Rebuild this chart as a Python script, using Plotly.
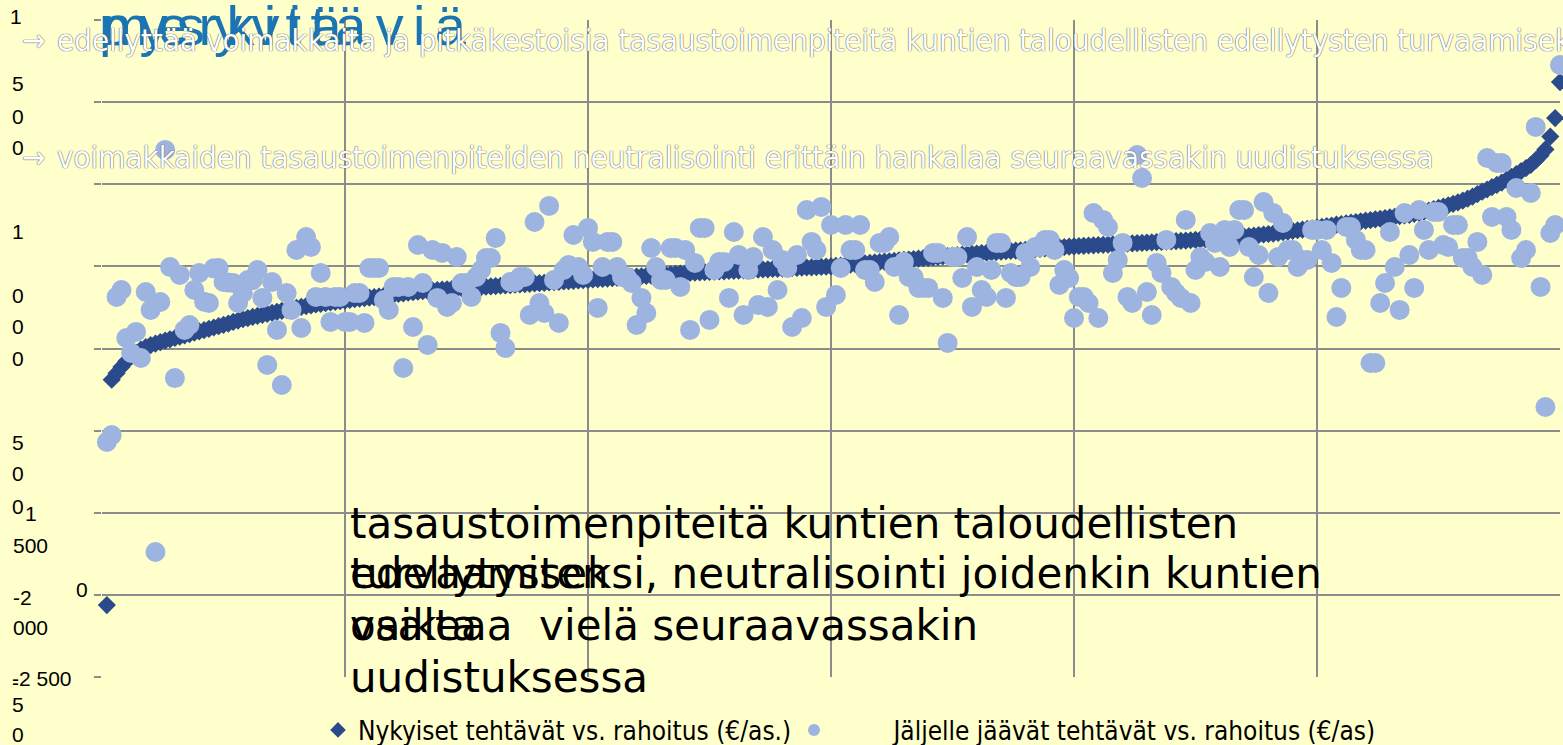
import plotly.graph_objects as go

# Nykyiset tehtävät vs. rahoitus (€/as.) -- sorted, one value per municipality
dark = [
    -2062, -690, -650, -612, -578, -548, -525, -507, -492, -480,
    -470, -461, -452, -444, -436, -428, -420, -412, -404, -396,
    -388, -380, -372, -364, -356, -348, -338, -330, -322, -315,
    -308, -301, -295, -289, -283, -277, -271, -265, -259, -253,
    -247, -242, -237, -232, -228, -224, -220, -216, -212, -208,
    -204, -200, -196, -193, -190, -187, -184, -180, -176, -172,
    -168, -164, -160, -157, -154, -151, -149, -146, -144, -142,
    -140, -138, -136, -134, -132, -130, -128, -126, -124, -122,
    -120, -118, -116, -114, -112, -110, -108, -106, -104, -102,
    -100, -98, -96, -94, -92, -90, -88, -86, -84, -82,
    -80, -78, -76, -74, -72, -70, -68, -66, -64, -62,
    -60, -58, -56, -54, -52, -50, -48, -46, -44, -42,
    -39, -38, -36, -35, -34, -32, -31, -30, -28, -27,
    -26, -24, -23, -22, -20, -19, -18, -16, -15, -14,
    -12, -11, -10, -8, -7, -6, -4, -3, -2, 0,
    3, 5, 8, 10, 13, 16, 18, 21, 24, 26,
    29, 31, 34, 37, 39, 42, 45, 47, 50, 52,
    55, 58, 60, 63, 65, 68, 71, 73, 76, 78,
    81, 83, 85, 87, 89, 92, 94, 96, 98, 100,
    103, 105, 107, 109, 111, 113, 116, 118, 120, 122,
    124, 125, 127, 128, 130, 131, 133, 134, 136, 137,
    139, 140, 142, 143, 145, 146, 148, 149, 151, 152,
    154, 155, 157, 159, 161, 163, 165, 167, 169, 171,
    173, 175, 177, 180, 182, 185, 188, 191, 194, 197,
    200, 204, 208, 212, 216, 220, 224, 228, 232, 237,
    241, 245, 249, 254, 258, 262, 266, 270, 274, 278,
    282, 286, 290, 294, 298, 302, 306, 310, 314, 320,
    326, 333, 340, 348, 356, 364, 372, 381, 390, 400,
    412, 425, 440, 455, 468, 482, 496, 510, 527, 545,
    562, 580, 598, 618, 645, 675, 712, 790, 903, 1122,
]

# Jäljelle jäävät tehtävät vs. rahoitus (€/as) -- same municipality order
light = [
    -1069, -1027, -186, -144, -436, -527, -399, -558, -156, -265,
    -1739, -217, 709, -4, -680, -52, -387, -357, -144, -40,
    -215, -223, -12, -10, -95, -98, -101, -223, -162, -83,
    -83, -22, -192, -600, -95, -387, -722, -162, -265, 100,
    -375, 179, 118, -186, -40, -186, -338, -186, -186, -338,
    -338, -162, -162, -344, -10, -10, -10, -205, -265, -125,
    -125, -619, -125, -369, 130, -101, -478, 100, -192, 82,
    -247, -223, 57, -101, -101, -186, -65, -22, 51, 51,
    173, -405, -497, -95, -95, -65, -65, -296, 270, -223,
    -284, 368, -83, -344, -22, 9, 191, -4, -52, 234,
    149, -253, -4, 149, 149, -4, -65, -65, -101, -357,
    -192, -284, 112, -4, -83, -83, 112, 112, -125, 100,
    -387, 21, 234, 234, -326, -22, 27, 27, -192, 209,
    69, -296, -22, 57, -235, 179, -247, 100, -144, 39,
    -10, -369, 69, -314, 343, 149, 100, 362, -247, 252,
    -174, -10, 252, 100, 100, 252, -22, -22, -95, 143,
    143, 179, -4, -296, 27, -65, -65, -131, -131, -131,
    82, 82, -192, -466, 57, 57, -71, 179, -247, -4,
    -144, -186, -22, 143, 143, -192, -40, -65, -65, 82,
    -4, 118, 118, 161, 161, 100, -113, -22, -71, -314,
    -186, -186, -223, 325, -314, 283, 240, -40, 39, 143,
    -186, -223, 678, 538, -156, -296, 21, -40, 161, -125,
    -162, -192, 283, -223, -22, 57, 27, 203, 143, -4,
    222, 118, 222, 343, 343, 118, -65, 69, 392, -162,
    325, 57, 264, 100, 100, -4, 39, 39, 222, 222,
    100, 222, 21, -308, -131, 240, 240, 161, 100, 100,
    -588, -588, -223, -101, 209, -4, -265, 325, 69, -131,
    343, 222, 100, 331, 331, 130, 118, 252, 252, 51,
    51, -4, 149, -52, 660, 301, 630, 630, 301, 222,
    477, 51, 100, 447, 849, -125, -856, 203, 252, 1226,
]

rank = list(range(1, len(dark) + 1))

series_names = ["Nykyiset tehtävät vs. rahoitus (€/as.)",
                "Jäljelle jäävät tehtävät vs. rahoitus (€/as)"]

y_ticks = [-2500, -2000, -1500, -1000, -500, 0, 500, 1000, 1500]
x_ticks = [0, 50, 100, 150, 200, 250, 300]

# garbled (wrapped) axis label fragments as they appear on the slide: (text, x px, y px)
axis_fragments = [
    ("1", 8, 16), ("5", 10, 83), ("0", 10, 116), ("0", 10, 147),
    ("1", 10, 231), ("0", 10, 295), ("0", 10, 326), ("0", 10, 358),
    ("5", 10, 442), ("0", 10, 473), ("0", 10, 506), ("1", 23, 513),
    ("500", 11, 545), ("0", 74, 589), ("-2", 11, 597), ("000", 11, 627),
    ("-2 500", 10, 678), ("-", 10, 683), ("5", 10, 704), ("0", 10, 734),
]

headline_words = ["merkittäviä", "pysyviä"]
bullet_lines = [
    "edellyttää voimakkaita ja pitkäkestoisia tasaustoimenpiteitä kuntien taloudellisten edellytysten turvaamiseksi",
    "voimakkaiden tasaustoimenpiteiden neutralisointi erittäin hankalaa seuraavassakin uudistuksessa",
]
body_lines = [
    ("tasaustoimenpiteitä kuntien taloudellisten", 523),
    ("edellytysten", 573),
    ("turvaamiseksi, neutralisointi joidenkin kuntien", 573),
    ("osalta", 625),
    ("vaikeaa  vielä seuraavassakin", 625),
    ("uudistuksessa", 677),
]

W, H = 1563, 745
ML, MR, MT, MB = 102, 3, 20, 68
PW, PH = W - ML - MR, H - MT - MB


def px(x):
    return (x - ML) / PW


def py(y):
    return (H - MB - y) / PH


BG = "#FFFFCC"
GRID = "#8C8C8C"
NARROW = "DejaVu Sans Condensed, sans-serif"
SP = "\u2006"

fig = go.Figure()
fig.add_trace(go.Scatter(
    x=rank, y=dark, mode="markers", name=series_names[0], cliponaxis=False,
    legend="legend",
    marker=dict(symbol="diamond", size=14, color="#2B4A8B", line=dict(width=0)),
))
fig.add_trace(go.Scatter(
    x=rank, y=light, mode="markers", name="\u00a0" * 8 + series_names[1], cliponaxis=False,
    legend="legend2",
    marker=dict(symbol="circle", size=20, color="#9DB4E0", line=dict(width=0)),
))

ann = []
# blue overlapping headline
for w, xo in zip(headline_words, [100, 97]):
    ann.append(dict(text=SP.join(w), x=px(xo), y=py(25), xref="paper", yref="paper",
                    xanchor="left", yanchor="middle", showarrow=False,
                    font=dict(family="Liberation Sans, Arial, sans-serif", size=56, color="#1B75B3")))

outline = "0 0 1px #444, 0 0 1px #666"
for txt, yc in zip(bullet_lines, [40, 157]):
    ann.append(dict(text="→", x=px(20), y=py(yc), xref="paper", yref="paper",
                    xanchor="left", yanchor="middle", showarrow=False,
                    font=dict(family=NARROW, size=31, color="white", shadow=outline)))
    ann.append(dict(text=txt, x=px(55), y=py(yc), xref="paper", yref="paper",
                    xanchor="left", yanchor="middle", showarrow=False,
                    font=dict(family=NARROW, size=31, color="white", shadow=outline)))

for txt, yc in body_lines:
    ann.append(dict(text=txt, x=px(348), y=py(yc), xref="paper", yref="paper",
                    xanchor="left", yanchor="middle", showarrow=False,
                    font=dict(family="DejaVu Sans, sans-serif", size=42, color="black")))

for txt, xl, yc in axis_fragments:
    ann.append(dict(text=txt, x=px(xl), y=py(yc), xref="paper", yref="paper",
                    xanchor="left", yanchor="middle", showarrow=False,
                    font=dict(family="Liberation Sans, Arial, sans-serif", size=21, color="black")))

legend_style = dict(orientation="h", xanchor="left", yanchor="middle",
                    bgcolor="rgba(0,0,0,0)", font=dict(family=NARROW, size=26, color="black"),
                    itemsizing="constant")

fig.update_layout(
    width=W, height=H,
    margin=dict(l=ML, r=MR, t=MT, b=MB, autoexpand=False),
    paper_bgcolor=BG, plot_bgcolor=BG,
    showlegend=True,
    legend=dict(x=px(318), y=py(730), **legend_style),
    legend2=dict(x=px(794), y=py(730), **legend_style),
    annotations=ann,
    xaxis=dict(range=[0, 300], tickvals=x_ticks, showticklabels=False, showgrid=True,
               gridcolor=GRID, gridwidth=2, zeroline=False, showline=False),
    yaxis=dict(range=[-2500, 1500], tickvals=y_ticks, showticklabels=False, showgrid=True,
               gridcolor=GRID, gridwidth=2, zeroline=False, showline=False,
               ticks="outside", ticklen=7, tickwidth=2, tickcolor=GRID),
)

fig.write_html("out.html", config={"displayModeBar": False},
               post_script="document.body.style.margin='0';document.body.style.overflow='hidden';")
